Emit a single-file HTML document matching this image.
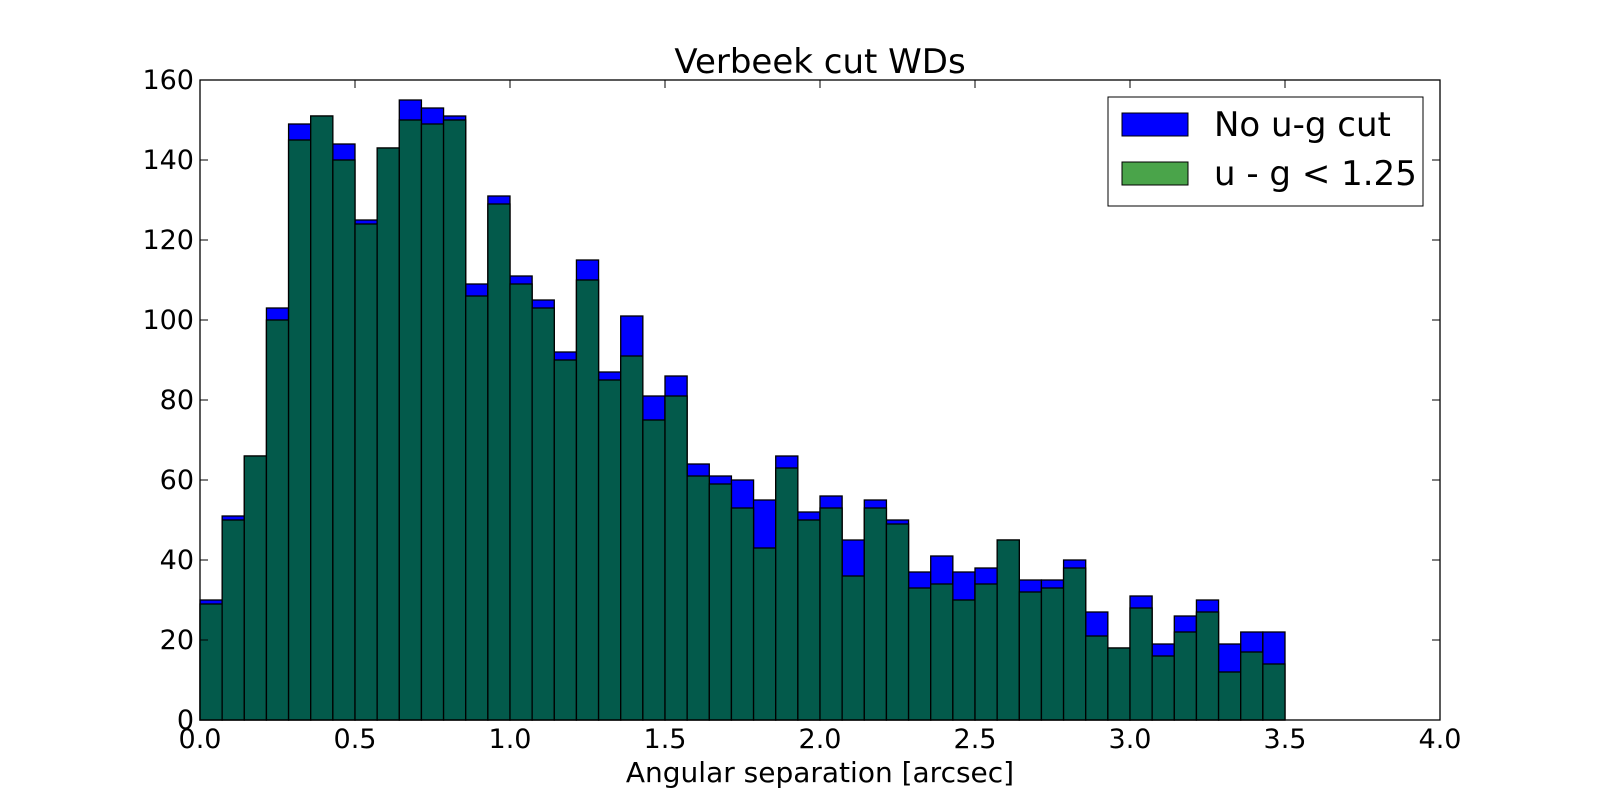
<!DOCTYPE html>
<html><head><meta charset="utf-8"><style>
body{margin:0;background:#fff;}
svg text{font-family:"DejaVu Sans","Liberation Sans",sans-serif;fill:#000;}
</style></head><body>
<svg id="chart" width="1600" height="800">
<rect width="1600" height="800" fill="#fff"/>
<text x="820" y="73" font-size="34" text-anchor="middle">Verbeek cut WDs</text>
<g id="bars"></g>
<g id="axes"></g>
<text x="820" y="782" font-size="28" text-anchor="middle">Angular separation [arcsec]</text>
<g>
<rect x="1108" y="97" width="315" height="109" fill="#fff" stroke="#000" stroke-width="1"/>
<rect x="1122" y="113" width="66" height="23" fill="#0000ff" stroke="#000"/>
<text x="1214" y="136" font-size="34">No u-g cut</text>
<rect x="1122" y="162" width="66" height="23" fill="#4aa44a" stroke="#000"/>
<text x="1214" y="185" font-size="34">u - g &lt; 1.25</text>
</g>
</svg>
<script>
const allCounts=[30,51,66,103,149,151,144,125,143,155,153,151,109,131,111,105,92,115,87,101,81,86,64,61,60,55,66,52,56,45,55,50,37,41,37,38,45,35,35,40,27,18,31,19,26,30,19,22,22];
const cutCounts=[29,50,66,100,145,151,140,124,143,150,149,150,106,129,109,103,90,110,85,91,75,81,61,59,53,43,63,50,53,36,53,49,33,34,30,34,45,32,33,38,21,18,28,16,22,27,12,17,14];
const binStart=0, binEnd=3.5;
const xTicks=[0,0.5,1,1.5,2,2.5,3,3.5,4];
const yTicks=[0,20,40,60,80,100,120,140,160];
const L=200,R=1440,T=80,B=720;
const xs=v=>L+(v-0)/(4-0)*(R-L);
const ys=v=>B-(v-0)/(160-0)*(B-T);
const NS="http://www.w3.org/2000/svg";
const bars=document.getElementById('bars'), axes=document.getElementById('axes');
function mk(tag,attrs,parent){const e=document.createElementNS(NS,tag);for(const k in attrs)e.setAttribute(k,attrs[k]);parent.appendChild(e);return e;}
const n=allCounts.length, w=(binEnd-binStart)/n;
for(let i=0;i<n;i++){
  const x0=xs(binStart+i*w), x1=xs(binStart+(i+1)*w);
  const r=mk('rect',{x:x0,y:ys(allCounts[i]),width:x1-x0,height:B-ys(allCounts[i]),fill:'#0000ff',stroke:'#000','stroke-width':1.3},bars);
  
  
}
for(let i=0;i<n;i++){
  const x0=xs(binStart+i*w), x1=xs(binStart+(i+1)*w);
  const r=mk('rect',{x:x0,y:ys(cutCounts[i]),width:x1-x0,height:B-ys(cutCounts[i]),fill:'#035a4b',stroke:'#000','stroke-width':1.3},bars);
  
  
}
const frame=mk('rect',{x:L,y:T,width:R-L,height:B-T,fill:'none',stroke:'#000','stroke-width':1.3},axes);


xTicks.forEach(v=>{
  const x=xs(v);
  mk('line',{x1:x,x2:x,y1:B,y2:B-8,stroke:'#000'},axes);
  mk('line',{x1:x,x2:x,y1:T,y2:T+8,stroke:'#000'},axes);
  const t=mk('text',{x:x,y:748,'font-size':27,'text-anchor':'middle'},axes);
  t.textContent=v.toFixed(1);
  
  
});
yTicks.forEach(v=>{
  const y=ys(v);
  mk('line',{x1:L,x2:L+8,y1:y,y2:y,stroke:'#000'},axes);
  mk('line',{x1:R,x2:R-8,y1:y,y2:y,stroke:'#000'},axes);
  const t=mk('text',{x:194,y:y+9,'font-size':27,'text-anchor':'end'},axes);
  t.textContent=v;
  
  
});
</script>
</body></html>
